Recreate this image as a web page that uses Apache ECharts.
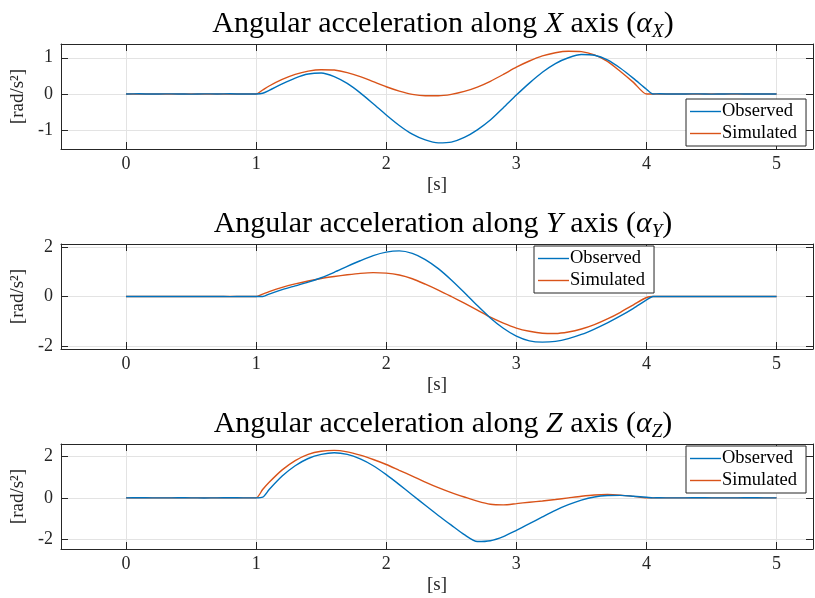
<!DOCTYPE html>
<html>
<head>
<meta charset="utf-8">
<script src="https://cdn.jsdelivr.net/npm/echarts@6/dist/echarts.min.js"></script>
<style>
  html, body { margin: 0; padding: 0; background: #fff; }
  #chart { width: 815px; height: 598px; }
</style>
</head>
<body>
<div id="chart"></div>
<script>
// Sample times [s]
const time = [0, 0.1, 0.2, 0.3, 0.4, 0.5, 0.6, 0.7, 0.8, 0.9, 1.0, 1.05,
  1.1, 1.2, 1.3, 1.4, 1.5, 1.6, 1.7, 1.8, 1.9, 2.0,
  2.1, 2.2, 2.3, 2.4, 2.5, 2.6, 2.7, 2.8, 2.9, 3.0,
  3.1, 3.2, 3.3, 3.4, 3.5, 3.6, 3.7, 3.8, 3.9, 4.0, 4.05,
  4.1, 4.2, 4.3, 4.4, 4.5, 4.6, 4.7, 4.8, 4.9, 5.0];

// Angular acceleration about X [rad/s^2]
const observedX = [0, 0.004, -0.003, 0.003, 0, -0.004, 0.003, 0, 0.004, -0.003, 0, 0.02,
  0.10, 0.28, 0.44, 0.55, 0.58, 0.48, 0.29, 0.03, -0.27, -0.58,
  -0.87, -1.11, -1.27, -1.35, -1.33, -1.20, -0.99, -0.72, -0.38, -0.03,
  0.30, 0.60, 0.84, 1.00, 1.09, 1.07, 0.94, 0.71, 0.43, 0.13, 0.0,
  0.004, -0.003, 0, 0.003, -0.004, 0, 0.003, -0.003, 0, 0];
const simulatedX = [0, 0, 0, 0, 0, 0, 0, 0, 0, 0, 0, 0.11,
  0.22, 0.40, 0.54, 0.63, 0.67, 0.66, 0.59, 0.48, 0.34, 0.20,
  0.08, -0.01, -0.05, -0.05, -0.01, 0.07, 0.19, 0.35, 0.54, 0.74,
  0.91, 1.05, 1.14, 1.18, 1.17, 1.08, 0.90, 0.62, 0.32, 0, 0,
  0, 0, 0, 0, 0, 0, 0, 0, 0, 0];

// Angular acceleration about Y [rad/s^2]
const observedY = [0, 0.004, -0.003, 0, 0.004, -0.003, 0, 0.003, -0.004, 0, 0, 0.0,
  0.10, 0.28, 0.43, 0.58, 0.76, 0.98, 1.22, 1.45, 1.66, 1.80,
  1.85, 1.75, 1.50, 1.13, 0.67, 0.16, -0.37, -0.87, -1.29, -1.61,
  -1.80, -1.85, -1.82, -1.71, -1.54, -1.32, -1.07, -0.79, -0.48, -0.14, 0.0,
  0.004, 0, -0.003, 0.004, 0, -0.003, 0, 0.003, 0, 0];
const simulatedY = [0, 0, 0, 0, 0, 0, 0, 0, 0, 0, 0, 0.10,
  0.20, 0.37, 0.51, 0.63, 0.73, 0.81, 0.88, 0.94, 0.97, 0.95,
  0.87, 0.72, 0.50, 0.26, 0.00, -0.27, -0.55, -0.84, -1.08, -1.28,
  -1.41, -1.49, -1.50, -1.44, -1.32, -1.14, -0.91, -0.64, -0.34, -0.04, 0,
  0, 0, 0, 0, 0, 0, 0, 0, 0, 0];

// Angular acceleration about Z [rad/s^2]
const observedZ = [0, 0.004, 0, -0.003, 0.004, 0, -0.004, 0, 0.003, 0, 0, 0.03,
  0.40, 1.05, 1.55, 1.90, 2.10, 2.18, 2.10, 1.88, 1.55, 1.12,
  0.64, 0.14, -0.36, -0.85, -1.32, -1.78, -2.11, -2.07, -1.87, -1.57,
  -1.25, -0.92, -0.60, -0.33, -0.11, 0.04, 0.11, 0.12, 0.08, 0.03, 0.0,
  0.004, -0.003, 0, 0.004, 0, -0.003, 0, 0.003, 0, 0];
const simulatedZ = [0, 0, 0, 0, 0, 0, 0, 0, 0, 0, 0, 0.40,
  0.75, 1.35, 1.80, 2.10, 2.25, 2.29, 2.22, 2.06, 1.85, 1.61,
  1.33, 1.05, 0.76, 0.49, 0.25, 0.04, -0.16, -0.31, -0.34, -0.28,
  -0.21, -0.15, -0.08, 0.0, 0.08, 0.14, 0.16, 0.13, 0.07, 0, 0,
  0, 0, 0, 0, 0, 0, 0, 0, 0, 0];

// Tick labels
const timeTicks = [0, 1, 2, 3, 4, 5];
const ticksX = [-1, 0, 1];
const ticksY = [-2, 0, 2];
const ticksZ = [-2, 0, 2];

const timeRange = [-0.5, 5.28];
const rangeX = [-1.52, 1.38];
const rangeY = [-2.13, 2.13];
const rangeZ = [-2.47, 2.6];

const COLOR_OBS = '#0072BD';
const COLOR_SIM = '#D95319';
const INK = '#262626';
const FONT = '"Liberation Serif", "DejaVu Serif", serif';

const panels = [
  { axis: 'X', obs: observedX, sim: simulatedX, ticks: ticksX, range: rangeX, top: 44,
    legend: { left: 686, top: 99 } },
  { axis: 'Y', obs: observedY, sim: simulatedY, ticks: ticksY, range: rangeY, top: 244,
    legend: { left: 534, top: 246 } },
  { axis: 'Z', obs: observedZ, sim: simulatedZ, ticks: ticksZ, range: rangeZ, top: 444,
    legend: { left: 686, top: 446 } }
];

const pairs = (vals) => time.map((t, i) => [t, vals[i]]);

const grid = [], xAxis = [], yAxis = [], series = [], title = [], legend = [];

panels.forEach((p, k) => {
  grid.push({ left: 61, right: 2, top: p.top, height: 105, containLabel: false });

  const base = { fontFamily: FONT, fontWeight: 'normal', color: '#000', lineHeight: 34 };
  title.push({
    text: '{n|Angular acceleration along }{i|' + p.axis + '}{n| axis (}{i|α}{s|' + p.axis + '}{n|)}',
    left: 438, top: p.top - 42, textAlign: 'center',
    textStyle: {
      fontWeight: 'normal',
      rich: {
        n: { ...base, fontSize: 30 },
        i: { ...base, fontSize: 30, fontStyle: 'italic' },
        s: { ...base, fontSize: 19, fontStyle: 'italic', verticalAlign: 'bottom', padding: [12, 0, 0, 0] }
      }
    }
  });

  const tickStyle = { show: true, inside: true, length: 7, lineStyle: { color: INK, width: 1 } };
  const lineStyle = { show: true, lineStyle: { color: INK, width: 1 } };

  // bottom time axis with labels and grid lines
  xAxis.push({
    type: 'value', gridIndex: k, min: timeRange[0], max: timeRange[1], position: 'bottom',
    axisLine: { ...lineStyle, onZero: false },
    axisTick: { ...tickStyle, customValues: timeTicks },
    axisLabel: { customValues: timeTicks, color: INK, fontFamily: FONT, fontSize: 18, margin: 6 },
    splitLine: { show: true, lineStyle: { color: '#e3e3e3', width: 1 } },
    name: '[s]', nameLocation: 'middle', nameGap: 27,
    nameTextStyle: { color: INK, fontFamily: FONT, fontSize: 19 }
  });
  // top edge of the box
  xAxis.push({
    type: 'value', gridIndex: k, min: timeRange[0], max: timeRange[1], position: 'top',
    axisLine: { ...lineStyle, onZero: false },
    axisTick: { ...tickStyle, customValues: timeTicks },
    axisLabel: { show: false },
    splitLine: { show: false }
  });

  yAxis.push({
    type: 'value', gridIndex: k, min: p.range[0], max: p.range[1], position: 'left',
    axisLine: { ...lineStyle, onZero: false },
    axisTick: { ...tickStyle, customValues: p.ticks },
    axisLabel: { customValues: p.ticks, color: INK, fontFamily: FONT, fontSize: 18, margin: 8 },
    splitLine: { show: true, lineStyle: { color: '#e3e3e3', width: 1 } },
    name: '[rad/s²]', nameLocation: 'middle', nameRotate: 90, nameGap: 29,
    nameTextStyle: { color: INK, fontFamily: FONT, fontSize: 19 }
  });
  // right edge of the box
  yAxis.push({
    type: 'value', gridIndex: k, min: p.range[0], max: p.range[1], position: 'right',
    axisLine: { ...lineStyle, onZero: false },
    axisTick: { ...tickStyle, customValues: p.ticks },
    axisLabel: { show: false },
    splitLine: { show: false }
  });

  series.push({
    name: 'Observed', type: 'line', xAxisIndex: 2 * k, yAxisIndex: 2 * k,
    data: pairs(p.obs), symbol: 'none', smooth: 0.25,
    lineStyle: { color: COLOR_OBS, width: 1.4 }, itemStyle: { color: COLOR_OBS }, z: 3
  });
  series.push({
    name: 'Simulated', type: 'line', xAxisIndex: 2 * k, yAxisIndex: 2 * k,
    data: pairs(p.sim), symbol: 'none', smooth: 0.25,
    lineStyle: { color: COLOR_SIM, width: 1.4 }, itemStyle: { color: COLOR_SIM }, z: 2
  });

  legend.push({
    data: ['Observed', 'Simulated'], orient: 'vertical',
    left: p.legend.left, top: p.legend.top,
    icon: 'rect', itemWidth: 31, itemHeight: 1.4, itemGap: 3,
    padding: [3, 9, 3, 4],
    backgroundColor: '#fff', borderColor: INK, borderWidth: 1, borderRadius: 0,
    textStyle: { color: '#000', fontFamily: FONT, fontSize: 18.5, padding: [0, 0, 0, -4], lineHeight: 19 },
    z: 10
  });
});

const chart = echarts.init(document.getElementById('chart'), null, { renderer: 'canvas' });
chart.setOption({
  animation: false,
  backgroundColor: '#fff',
  title, grid, xAxis, yAxis, series, legend
});
</script>
</body>
</html>
